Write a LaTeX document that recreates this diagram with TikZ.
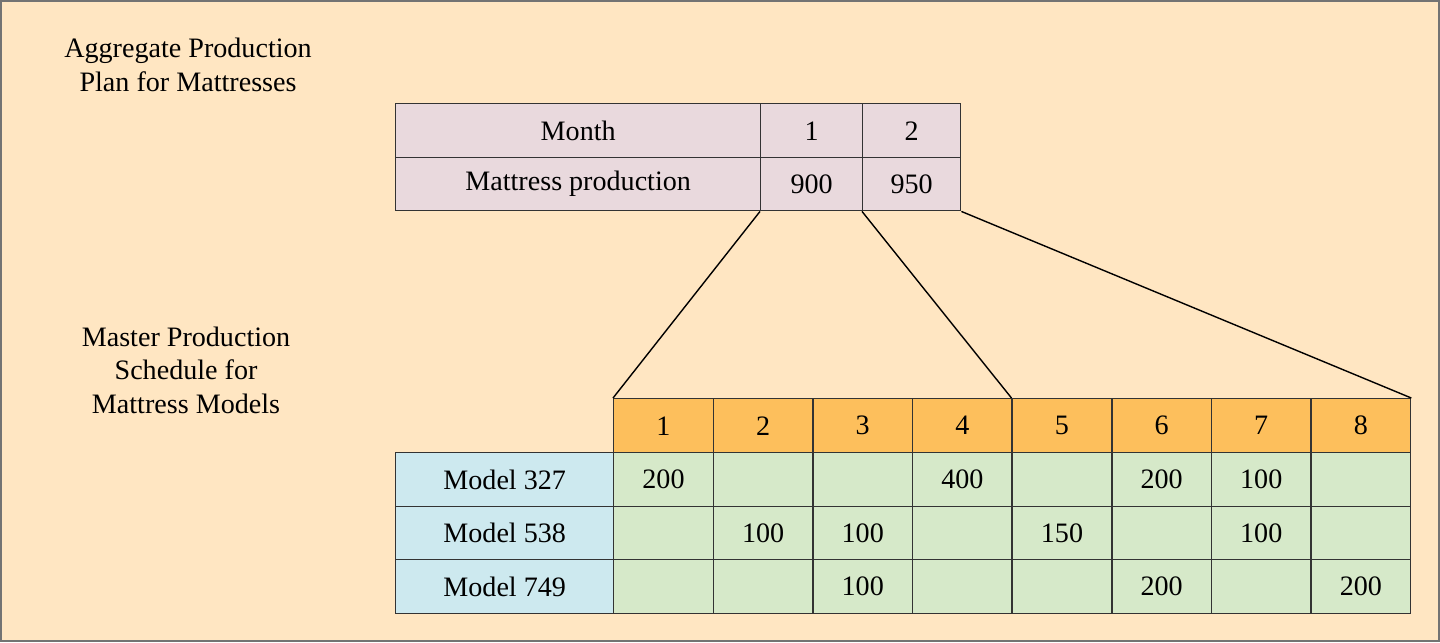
\documentclass[tikz,border=0pt]{standalone}
\usepackage{fontspec}
\setmainfont{Liberation Serif}
\definecolor{bg}{HTML}{FFE6C2}
\definecolor{topc}{HTML}{E9D9DD}
\definecolor{hdr}{HTML}{FDBF5C}
\definecolor{lab}{HTML}{CDE9EF}
\definecolor{grn}{HTML}{D6E9C9}
\begin{document}
\begin{tikzpicture}[x=0.02cm,y=-0.02cm,
 cell/.style={draw=black!80,line width=0.8pt,anchor=north west,inner sep=0pt,font=\fontsize{16}{19}\selectfont},
 lbl/.style={font=\fontsize{16}{19}\selectfont,align=center}]
\fill[bg,draw=black!55,line width=1.2pt] (1,1) rectangle (1439,641);
\useasboundingbox (0,0) rectangle (1440,642);
\node[lbl] (t1) at (188,65) {Aggregate Production\\Plan for Mattresses};
\node[lbl] (t2) at (186,370) {Master Production\\Schedule for\\Mattress Models};
% top table
\node[cell,fill=topc,minimum width=365\pgflinewidth/\pgflinewidth*0.02cm,minimum height=1.08cm] (m) at (395,103) {Month};
\node[cell,fill=topc,minimum width=2.04cm,minimum height=1.08cm] (m1) at (760,103) {1};
\node[cell,fill=topc,minimum width=1.96cm,minimum height=1.08cm] (m2) at (862,103) {2};
\node[cell,fill=topc,minimum width=7.3cm,minimum height=1.06cm] (p) at (395,157) {Mattress production};
\node[cell,fill=topc,minimum width=2.04cm,minimum height=1.06cm] (p1) at (760,157) {900};
\node[cell,fill=topc,minimum width=1.96cm,minimum height=1.06cm] (p2) at (862,157) {950};
% header
\foreach \i in {1,...,8}{
 \node[cell,fill=hdr,minimum width=1.9925cm,minimum height=1.08cm] (h\i) at ({613+(\i-1)*99.625},398) {\i};}
% rows
\foreach \r/\nm [count=\k] in {a/327,b/538,c/749}{
 \node[cell,fill=lab,minimum width=4.36cm,minimum height=1.07cm] (\r0) at (395,{452+(\k-1)*53.5}) {Model \nm};
 \foreach \i in {1,...,8}{
  \node[cell,fill=grn,minimum width=1.9925cm,minimum height=1.07cm] (\r\i) at ({613+(\i-1)*99.625},{452+(\k-1)*53.5}) {};}}
\foreach \c/\v in {a1/200,a4/400,a6/200,a7/100,b2/100,b3/100,b5/150,b7/100,c3/100,c6/200,c8/200}
 \node[lbl] at (\c) {\v};
\draw[line width=0.8pt] (p1.south west) -- (h1.north west);
\draw[line width=0.8pt] (p2.south west) -- (h5.north west);
\draw[line width=0.8pt] (p2.south east) -- (h8.north east);
\end{tikzpicture}
\end{document}
